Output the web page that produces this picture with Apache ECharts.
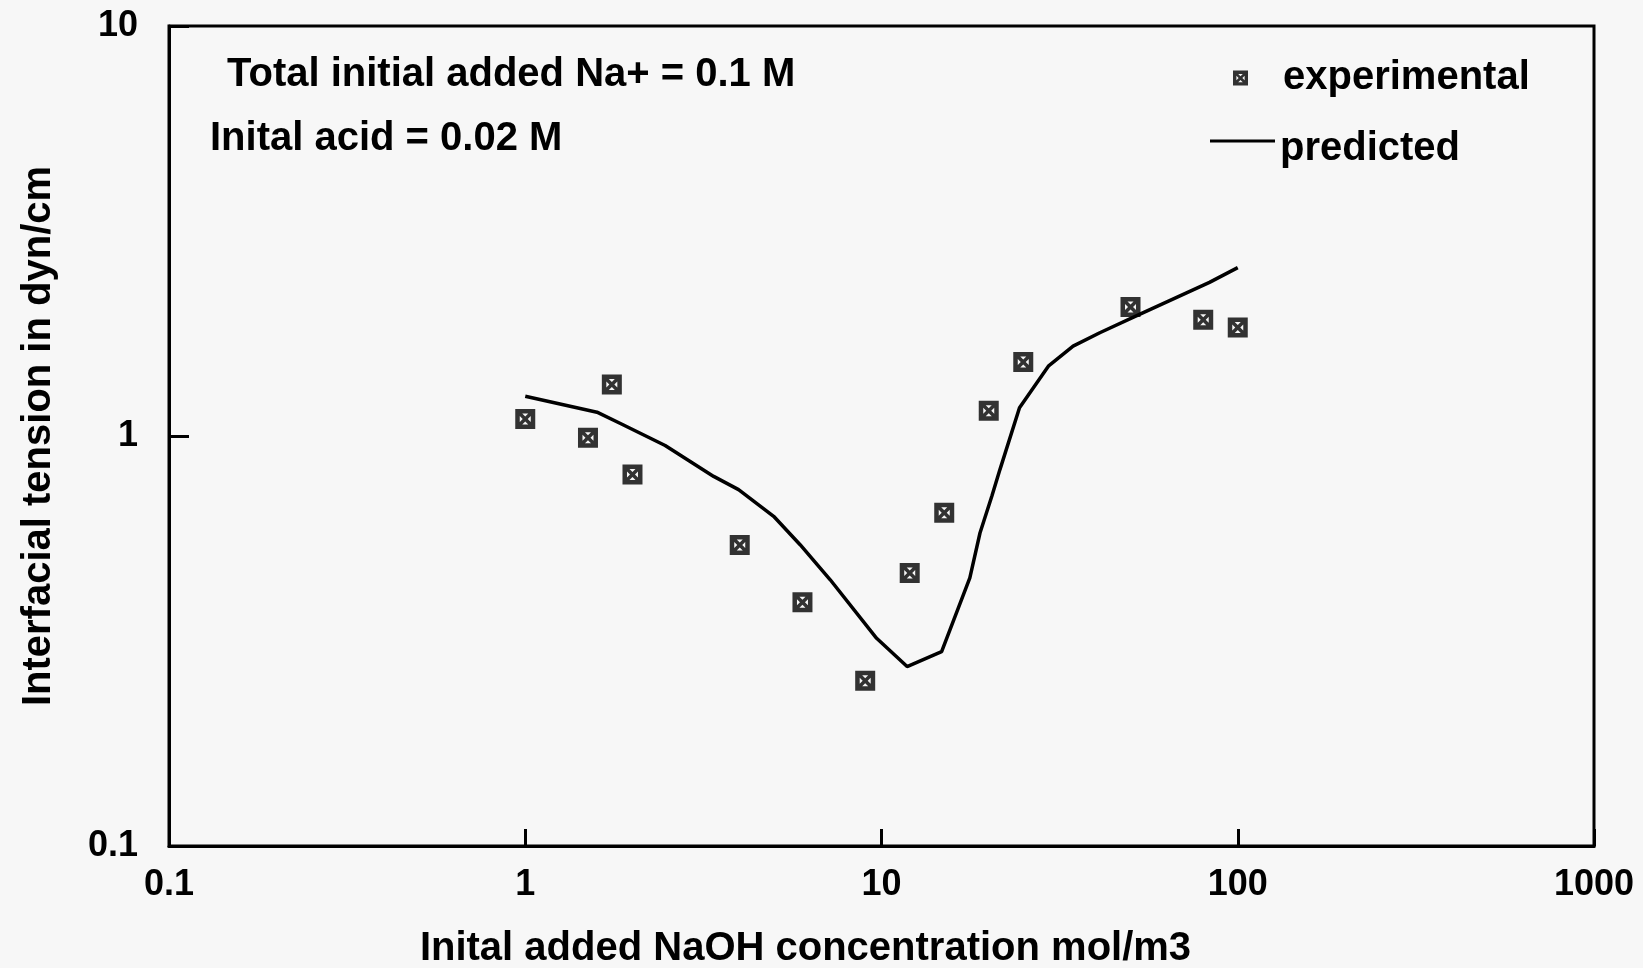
<!DOCTYPE html>
<html>
<head>
<meta charset="utf-8">
<title>Interfacial tension vs NaOH concentration</title>
<script src="https://cdn.jsdelivr.net/npm/echarts@6/dist/echarts.min.js"></script>
<style>
  html, body { margin: 0; padding: 0; background: #f7f7f7; }
  #chart { width: 1643px; height: 968px; }
</style>
</head>
<body>
<div id="chart"></div>
<script>
// Measured interfacial tension (dyn/cm) against initial added NaOH (mol/m3)
const expNaOH    = [1, 1.5, 1.75, 2, 4, 6, 9, 12, 15, 20, 25, 50, 80, 100];
const expTension = [1.10, 0.99, 1.335, 0.805, 0.542, 0.393, 0.253, 0.463, 0.650, 1.153, 1.515, 2.065, 1.92, 1.84];

// Model prediction
const predNaOH    = [1.0, 1.59, 1.85, 2.47, 3.38, 3.97, 4.98, 5.91, 7.18, 9.69, 11.8, 14.75, 17.7, 18.9, 20.4, 21.5, 24.4, 29.4, 34.5, 41, 53, 83.3, 100];
const predTension = [1.25, 1.143, 1.073, 0.948, 0.797, 0.740, 0.637, 0.543, 0.446, 0.321, 0.274, 0.298, 0.451, 0.580, 0.713, 0.828, 1.172, 1.48, 1.656, 1.786, 1.98, 2.37, 2.575];

// Decade tick labels
const xTickValues = [0.1, 1, 10, 100, 1000];
const xTickLabels = ['0.1', '1', '10', '100', '1000'];
const yTickValues = [0.1, 1, 10];
const yTickLabels = ['0.1', '1', '10'];

const seriesNames = ['experimental', 'predicted'];
const notes = ['Total initial added Na+ = 0.1 M', 'Inital acid = 0.02 M'];
const xAxisTitle = 'Inital added NaOH concentration mol/m3';
const yAxisTitle = 'Interfacial tension in dyn/cm';

function labelFor(values, labels) {
  return function (v) {
    const i = values.findIndex(t => Math.abs(Math.log10(t) - Math.log10(v)) < 1e-6);
    return i >= 0 ? labels[i] : '';
  };
}

// Boxed-cross marker: black square with four small triangular holes leaving an X
const boxCross = 'path://M0 0L20 0L20 20L0 20Z' +
  'M7 4.5L10 7.5L13 4.5Z' +
  'M15.5 7L12.5 10L15.5 13Z' +
  'M13 15.5L10 12.5L7 15.5Z' +
  'M4.5 13L7.5 10L4.5 7Z';

const FONT = 'Liberation Sans';
const INK = '#000';

const chart = echarts.init(document.getElementById('chart'), null, { renderer: 'canvas' });

chart.setOption({
  backgroundColor: '#f7f7f7',
  animation: false,
  textStyle: { fontFamily: FONT, fontWeight: 'bold', color: INK },
  grid: {
    left: 169, top: 26, right: 49, bottom: 122,
    outerBoundsMode: 'none', containLabel: false,
    show: true, borderColor: INK, borderWidth: 3, backgroundColor: 'transparent'
  },
  xAxis: {
    type: 'log', logBase: 10, min: 0.1, max: 1000,
    name: xAxisTitle, nameLocation: 'middle', nameGap: 83,
    nameTextStyle: { fontFamily: FONT, fontWeight: 'bold', fontSize: 40, color: INK, padding: [0, 152, 0, 0] },
    axisLine: { lineStyle: { color: INK, width: 3 } },
    axisTick: { inside: true, length: 17, lineStyle: { color: INK, width: 3 } },
    minorTick: { show: false },
    splitLine: { show: false },
    axisLabel: {
      margin: 21, fontFamily: FONT, fontWeight: 'bold', fontSize: 36, color: INK,
      formatter: labelFor(xTickValues, xTickLabels)
    }
  },
  yAxis: {
    type: 'log', logBase: 10, min: 0.1, max: 10,
    name: yAxisTitle, nameLocation: 'middle', nameGap: 110, nameRotate: 90,
    nameTextStyle: { fontFamily: FONT, fontWeight: 'bold', fontSize: 40, color: INK },
    axisLine: { lineStyle: { color: INK, width: 3 } },
    axisTick: { inside: true, length: 20, lineStyle: { color: INK, width: 3 } },
    splitLine: { show: false },
    axisLabel: {
      margin: 31, fontFamily: FONT, fontWeight: 'bold', fontSize: 36, color: INK,
      formatter: labelFor(yTickValues, yTickLabels)
    }
  },
  legend: [
    {
      data: [seriesNames[0]], left: 1228, top: 53, orient: 'vertical',
      itemWidth: 15, itemHeight: 15,
      textStyle: { fontFamily: FONT, fontWeight: 'bold', fontSize: 40, color: INK, lineHeight: 40, padding: [0, 0, 0, 30] }
    },
    {
      // the label sits a little below its line sample
      data: [{ name: seriesNames[1], icon: 'rect' }], left: 1205, top: 108, orient: 'vertical',
      itemWidth: 65, itemHeight: 3,
      itemStyle: { color: INK },
      formatter: name => '{gap| }\n{t|' + name + '}',
      textStyle: {
        color: INK,
        rich: {
          gap: { fontSize: 10, lineHeight: 16, height: 16 },
          t: { fontFamily: FONT, fontWeight: 'bold', fontSize: 40, color: INK, lineHeight: 40 }
        }
      }
    }
  ],
  graphic: [
    {
      type: 'text', left: 227, top: 55,
      style: { text: notes[0], fontFamily: FONT, fontWeight: 'bold', fontSize: 40, fill: INK }
    },
    {
      type: 'text', left: 210, top: 119,
      style: { text: notes[1], fontFamily: FONT, fontWeight: 'bold', fontSize: 40, fill: INK }
    }
  ],
  series: [
    {
      name: seriesNames[0], type: 'scatter', z: 3,
      symbol: boxCross, symbolSize: 20,
      itemStyle: { color: INK },
      data: expNaOH.map((x, i) => [x, expTension[i]])
    },
    {
      name: seriesNames[1], type: 'line', z: 2,
      symbol: 'none', smooth: false,
      lineStyle: { color: INK, width: 3.5 },
      itemStyle: { color: INK },
      data: predNaOH.map((x, i) => [x, predTension[i]])
    }
  ]
});
</script>
</body>
</html>
